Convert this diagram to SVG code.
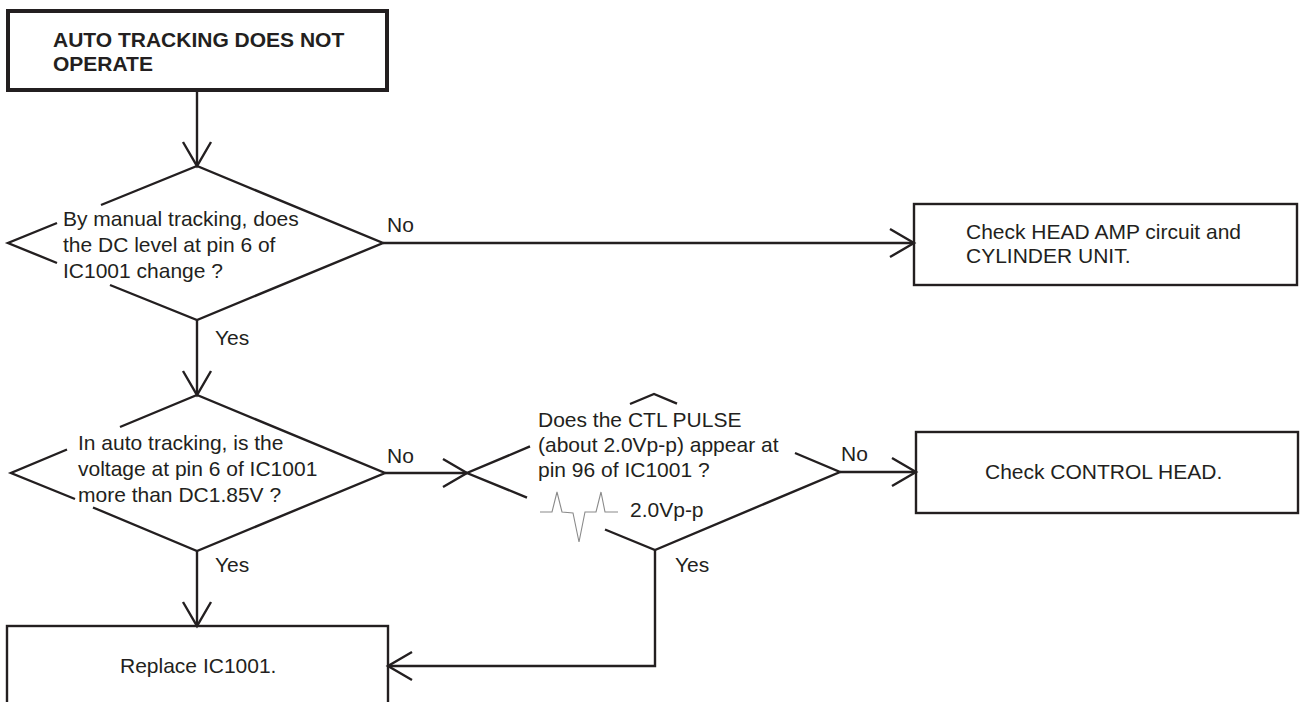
<svg xmlns="http://www.w3.org/2000/svg" width="1300" height="702" viewBox="0 0 1300 702">
<style>
  .t { font-family: "Liberation Sans", Arial, sans-serif; font-size: 21px; fill: #231f20; }
  .b { font-weight: bold; }
  .shape { fill: none; stroke: #231f20; stroke-width: 2.4; stroke-linejoin: miter; }
  .con { fill: none; stroke: #231f20; stroke-width: 2.4; }
  .wave { fill: none; stroke: #8a8a8a; stroke-width: 1.1; }
</style>
<defs>
  <marker id="arr" markerUnits="userSpaceOnUse" viewBox="-27 -17 30 34" markerWidth="30" markerHeight="34" refX="0" refY="0" orient="auto">
    <path d="M-24,-14 L0,0 L-24,14" fill="none" stroke="#231f20" stroke-width="2.4"/>
  </marker>
</defs>
<rect x="0" y="0" width="1300" height="702" fill="#ffffff"/>

<g id="connectors">
  <path class="con" d="M197,92 L197,166" marker-end="url(#arr)"/>
  <path class="con" d="M383,243 L914,243" marker-end="url(#arr)"/>
  <path class="con" d="M197,320 L197,395" marker-end="url(#arr)"/>
  <path class="con" d="M385,473 L467,473" marker-end="url(#arr)"/>
  <path class="con" d="M840,472 L916,472" marker-end="url(#arr)"/>
  <path class="con" d="M197,551 L197,626" marker-end="url(#arr)"/>
  <path class="con" d="M655,550 L655,666 L388,666" marker-end="url(#arr)"/>
  <text class="t" x="387" y="232">No</text>
  <text class="t" x="215" y="345">Yes</text>
  <text class="t" x="387" y="463">No</text>
  <text class="t" x="215" y="572">Yes</text>
  <text class="t" x="841" y="461">No</text>
  <text class="t" x="675" y="572">Yes</text>
</g>

<g id="start">
  <rect x="8" y="11" width="379" height="79" fill="none" stroke="#231f20" stroke-width="4"/>
  <text class="t b" x="53" y="47">AUTO TRACKING DOES NOT</text>
  <text class="t b" x="53" y="71">OPERATE</text>
</g>

<g id="decision1">
  <path class="shape" d="M101,205 L197,166 L383,243 L197,320 L110,285 M57,263 L8,243 L57,223"/>
  <text class="t" x="63" y="226">By manual tracking, does</text>
  <text class="t" x="63" y="252">the DC level at pin 6 of</text>
  <text class="t" x="63" y="278">IC1001 change ?</text>
</g>

<g id="box-head-amp">
  <rect class="shape" x="914" y="204" width="383" height="81"/>
  <text class="t" x="966" y="239">Check HEAD AMP circuit and</text>
  <text class="t" x="966" y="263">CYLINDER UNIT.</text>
</g>

<g id="decision2">
  <path class="shape" d="M120,427 L197,395 L385,473 L197,551 L93,507.5 M75,499 L11,473 L67,449.5"/>
  <text class="t" x="78" y="450">In auto tracking, is the</text>
  <text class="t" x="78" y="476">voltage at pin 6 of IC1001</text>
  <text class="t" x="78" y="502">more than DC1.85V ?</text>
</g>

<g id="decision3">
  <path class="shape" d="M630,404 L654,394 L677,403.6 M795,453 L840,472 L655,550 L605,529.5 M527,497.6 L467,473 L530,446.4"/>
  <text class="t" x="538" y="427">Does the CTL PULSE</text>
  <text class="t" x="538" y="452">(about 2.0Vp-p) appear at</text>
  <text class="t" x="538" y="477">pin 96 of IC1001 ?</text>
  <path class="wave" d="M540,512 L552,512 L557,492 L562,512 L573,513 L579,542 L585,512 L596,512 L601,492 L605,512 L618,512"/>
  <text class="t" x="630" y="517">2.0Vp-p</text>
</g>

<g id="box-control-head">
  <rect class="shape" x="916" y="432" width="382" height="81"/>
  <text class="t" x="985" y="479">Check CONTROL HEAD.</text>
</g>

<g id="box-replace">
  <rect class="shape" x="7" y="626" width="381" height="90"/>
  <text class="t" x="120" y="673">Replace IC1001.</text>
</g>
</svg>
